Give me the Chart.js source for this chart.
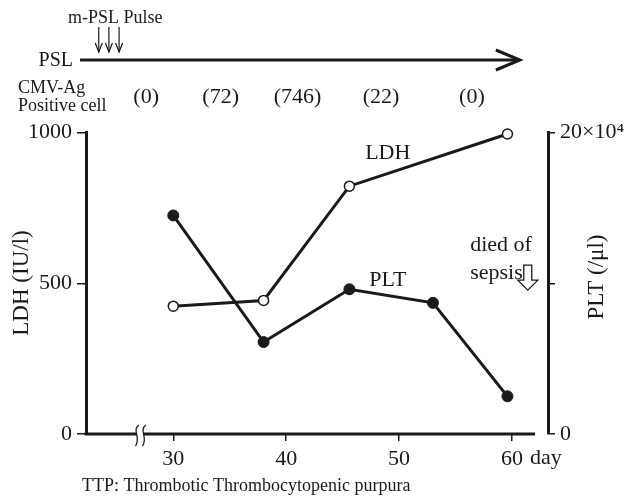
<!DOCTYPE html>
<html><head><meta charset="utf-8">
<script src="https://cdn.jsdelivr.net/npm/chart.js@4.4.1/dist/chart.umd.min.js"></script>
<style>html,body{margin:0;padding:0;background:#fff}canvas{display:block}</style>
</head><body>
<canvas id="c" width="626" height="498"></canvas>
<script>
// ---- data ----
const ldhDays = [30, 38, 45.6, 59.6];
const ldhValues = [424, 443, 822, 995];
const pltDays = [30, 38, 45.6, 53, 59.6];
const pltValues = [14.5, 6.1, 9.6, 8.7, 2.5];      // ×10^4 /μl
const xTicks = [30, 40, 50, 60];
const ldhTicks = [0, 500, 1000];
const ldhTickLabels = ['0', '500', '1000'];
const pltTicks = [0, 10, 20];
const pltTickLabels = ['0', '', '20×10⁴'];
const cmvDays = [27.6, 34.2, 41.0, 48.4, 56.45];
const cmvCounts = ['(0)', '(72)', '(746)', '(22)', '(0)'];
const pulseDays = [23.4, 24.3, 25.2];

const ink = '#1a1a1a';
const serif = '"Liberation Serif", "Times New Roman", serif';
const X_MIN = 22.27, X_MAX = 63.19, X_AXIS_END = 62.05, BREAK_DAY = 27.05;
const PSL_START = 21.74, PSL_END = 60.7;

function txt(ctx, s, px, py, size, align) {
  ctx.font = size + 'px ' + serif;
  ctx.textAlign = align || 'left';
  ctx.textBaseline = 'middle';
  ctx.fillText(s, px, py);
}

const decor = {
  id: 'decor',
  afterDraw(chart) {
    const {ctx, chartArea: a, scales: {x, y}} = chart;
    ctx.save();
    ctx.strokeStyle = ink; ctx.fillStyle = ink; ctx.lineCap = 'butt';
    // x axis line (stops before the right axis)
    ctx.lineWidth = 3;
    ctx.beginPath();
    ctx.moveTo(a.left - 1.5, a.bottom);
    ctx.lineTo(x.getPixelForValue(X_AXIS_END), a.bottom);
    ctx.stroke();
    // axis break
    const bx = x.getPixelForValue(BREAK_DAY);
    ctx.fillStyle = '#fff';
    ctx.fillRect(bx - 3.5, a.bottom - 3, 7, 6);
    ctx.lineWidth = 1.3;
    for (const dx of [-3.5, 3.5]) {
      const cx = bx + dx;
      ctx.beginPath();
      ctx.moveTo(cx + 2.5, a.bottom - 9);
      ctx.bezierCurveTo(cx - 5, a.bottom - 4, cx + 5, a.bottom + 4, cx - 1, a.bottom + 12);
      ctx.stroke();
    }
    ctx.fillStyle = ink;

    // PSL bar with open arrowhead
    const y0 = 60;
    const ps = x.getPixelForValue(PSL_START), pe = x.getPixelForValue(PSL_END);
    ctx.lineWidth = 3;
    ctx.beginPath(); ctx.moveTo(ps, y0); ctx.lineTo(pe - 1, y0); ctx.stroke();
    ctx.beginPath(); ctx.moveTo(pe - 24, y0 - 10); ctx.lineTo(pe, y0); ctx.lineTo(pe - 24, y0 + 10); ctx.stroke();
    // m-PSL pulse arrows
    ctx.lineWidth = 1.2;
    for (const d of pulseDays) {
      const px = x.getPixelForValue(d);
      ctx.beginPath(); ctx.moveTo(px, 27); ctx.lineTo(px, 52); ctx.stroke();
      ctx.beginPath(); ctx.moveTo(px - 3.5, 43); ctx.lineTo(px, 52); ctx.lineTo(px + 3.5, 43); ctx.stroke();
    }
    txt(ctx, 'm-PSL Pulse', 68, 18, 18);
    txt(ctx, 'PSL', 73, 61, 20, 'right');
    txt(ctx, 'CMV-Ag', 18, 88, 18);
    txt(ctx, 'Positive cell', 18, 106, 18);
    cmvCounts.forEach((s, i) => txt(ctx, s, x.getPixelForValue(cmvDays[i]), 97, 22, 'center'));

    // series labels & annotation
    txt(ctx, 'LDH', x.getPixelForValue(49), y.getPixelForValue(931), 22, 'center');
    txt(ctx, 'PLT', x.getPixelForValue(49), y.getPixelForValue(510), 22, 'center');
    txt(ctx, 'died of', x.getPixelForValue(56.3), y.getPixelForValue(626), 22);
    txt(ctx, 'sepsis', x.getPixelForValue(56.3), y.getPixelForValue(533), 22);
    const ac = x.getPixelForValue(61.4), at = y.getPixelForValue(560), tip = y.getPixelForValue(477);
    ctx.lineWidth = 1.3;
    ctx.beginPath();
    ctx.moveTo(ac - 4, at); ctx.lineTo(ac + 4, at); ctx.lineTo(ac + 4, tip - 10);
    ctx.lineTo(ac + 10, tip - 10); ctx.lineTo(ac, tip); ctx.lineTo(ac - 10, tip - 10);
    ctx.lineTo(ac - 4, tip - 10); ctx.closePath(); ctx.stroke();

    // axis unit & titles, footnote
    txt(ctx, 'day', 530, 458, 22);
    txt(ctx, 'TTP: Thrombotic Thrombocytopenic purpura', 82, 486, 18);
    ctx.save(); ctx.translate(22, 283); ctx.rotate(-Math.PI / 2);
    txt(ctx, 'LDH (IU/l)', 0, 0, 23, 'center'); ctx.restore();
    ctx.save(); ctx.translate(597, 277); ctx.rotate(-Math.PI / 2);
    txt(ctx, 'PLT (/μl)', 0, 0, 23, 'center'); ctx.restore();
    ctx.restore();
  }
};

const tickFont = {family: serif, size: 22};

new Chart(document.getElementById('c'), {
  type: 'line',
  data: {
    datasets: [
      {
        label: 'LDH',
        data: ldhDays.map((d, i) => ({x: d, y: ldhValues[i]})),
        yAxisID: 'y', clip: false,
        borderColor: ink, borderWidth: 3,
        pointRadius: 5, pointBorderWidth: 1.5,
        pointBackgroundColor: '#fff', pointBorderColor: ink,
        tension: 0
      },
      {
        label: 'PLT',
        data: pltDays.map((d, i) => ({x: d, y: pltValues[i]})),
        yAxisID: 'y1', clip: false,
        borderColor: ink, borderWidth: 3,
        pointRadius: 5.5, pointBorderWidth: 1,
        pointBackgroundColor: ink, pointBorderColor: ink,
        tension: 0
      }
    ]
  },
  options: {
    responsive: false,
    animation: false,
    devicePixelRatio: 1,
    layout: {padding: {top: 132.5, left: 0, right: 0, bottom: 0}},
    plugins: {legend: {display: false}, tooltip: {enabled: false}},
    scales: {
      x: {
        type: 'linear', min: X_MIN, max: X_MAX,
        afterBuildTicks: s => { s.ticks = xTicks.map(v => ({value: v})); },
        afterFit: s => { s.height = 64; },
        grid: {drawOnChartArea: false, tickLength: 7, color: ink, lineWidth: 1.5},
        border: {display: false},
        ticks: {font: tickFont, color: ink, padding: 5, maxRotation: 0,
          callback: v => String(v)}
      },
      y: {
        position: 'left', min: 0, max: 1000,
        afterBuildTicks: s => { s.ticks = ldhTicks.map(v => ({value: v})); },
        afterFit: s => { s.width = 86; },
        grid: {drawOnChartArea: false, tickLength: 9, color: ink, lineWidth: 1.5},
        border: {display: true, color: ink, width: 3},
        ticks: {font: tickFont, color: ink, padding: 5,
          callback: v => ldhTickLabels[ldhTicks.indexOf(v)]}
      },
      y1: {
        position: 'right', min: 0, max: 20,
        afterBuildTicks: s => { s.ticks = pltTicks.map(v => ({value: v})); },
        afterFit: s => { s.width = 78; },
        grid: {drawOnChartArea: false, tickLength: 7, color: ink, lineWidth: 1.5},
        border: {display: true, color: ink, width: 3},
        ticks: {font: tickFont, color: ink, padding: 5,
          callback: v => pltTickLabels[pltTicks.indexOf(v)]}
      }
    }
  },
  plugins: [decor]
});
</script>
</body></html>
